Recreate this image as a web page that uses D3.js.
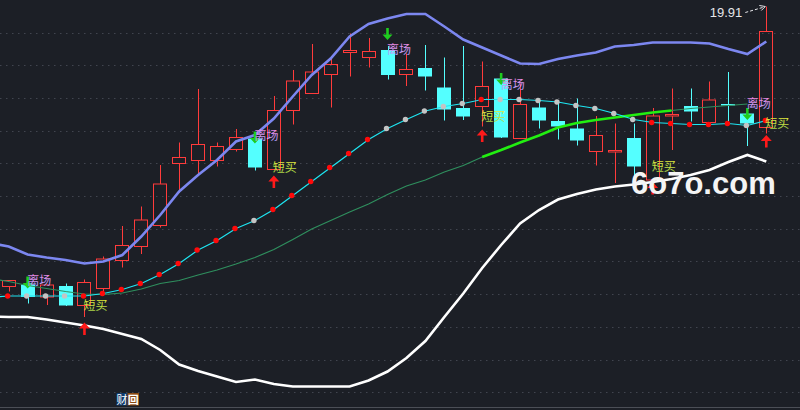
<!DOCTYPE html>
<html>
<head>
<meta charset="utf-8">
<script src="https://cdn.jsdelivr.net/npm/d3@7"></script>
<style>
  html, body { margin: 0; padding: 0; background: #1c1f26; }
  svg { display: block; }
</style>
</head>
<body>
<svg id="chart" width="800" height="410"></svg>
<script>
// daily bars, oldest first
var opens  = [14.31,14.35,14.10,14.32,13.93,14.27,14.83,15.11,15.53,16.77,16.83,16.83,17.05,17.27,16.65,17.83,18.17,18.55,18.99,18.89,19.04,18.55,18.68,18.29,17.88,17.91,18.47,17.27,17.89,17.62,17.47,17.01,17.02,17.28,16.44,17.74,17.92,17.59,17.96,17.77,17.49];
var highs  = [14.44,14.38,14.35,14.37,14.45,14.91,15.52,15.91,16.74,17.19,18.26,17.19,17.46,17.36,18.12,18.64,19.16,18.89,19.37,19.28,19.12,18.97,19.14,18.89,19.12,18.81,18.52,18.37,18.07,18.04,18.07,17.72,17.57,17.57,17.88,18.27,18.27,18.41,18.60,17.80,19.91];
var lows   = [14.21,13.97,13.94,13.92,13.70,14.12,14.69,14.96,15.49,16.18,16.56,16.71,17.01,16.63,16.64,17.55,18.16,17.89,18.51,18.69,18.45,18.32,18.23,17.63,17.64,17.51,17.28,17.26,17.47,17.25,17.13,16.73,16.38,16.52,16.42,17.04,17.61,17.51,17.56,17.12,17.37];
var closes = [14.43,14.10,14.34,13.93,14.39,14.86,15.13,15.64,16.36,16.89,17.15,17.11,17.29,16.69,17.83,18.42,18.60,18.75,19.03,19.01,18.54,18.65,18.51,17.85,17.71,18.31,17.29,17.95,17.63,17.51,17.23,17.33,17.03,16.71,17.72,17.75,17.81,18.04,17.94,17.57,19.41];

// indicator lines: first value belongs to the bar just before the window
var boll_upper = [15.18,15.11,14.95,14.89,14.84,14.77,14.81,14.94,15.31,15.74,16.21,16.54,16.84,17.21,17.34,17.67,18.11,18.54,18.87,19.31,19.56,19.67,19.76,19.76,19.51,19.25,19.09,18.93,18.77,18.76,18.86,18.93,18.99,19.11,19.14,19.19,19.19,19.19,19.17,19.06,18.96,19.21];
var boll_lower = [13.71,13.70,13.70,13.65,13.59,13.53,13.46,13.36,13.26,13.04,12.75,12.62,12.51,12.40,12.45,12.36,12.31,12.31,12.31,12.31,12.43,12.61,12.88,13.22,13.70,14.17,14.68,15.14,15.57,15.84,16.05,16.16,16.25,16.31,16.35,16.40,16.46,16.54,16.64,16.80,16.94,16.81];
var boll_mid   = [14.47,14.41,14.33,14.27,14.21,14.16,14.15,14.18,14.26,14.37,14.43,14.54,14.64,14.76,14.89,15.05,15.25,15.46,15.63,15.80,15.96,16.15,16.32,16.44,16.60,16.73,16.90,17.04,17.19,17.33,17.49,17.58,17.64,17.69,17.74,17.79,17.83,17.87,17.90,17.93,17.96,null];
var fast_line  = [14.09,14.12,14.12,14.12,14.12,14.12,14.17,14.25,14.37,14.55,14.77,15.04,15.23,15.47,15.63,15.85,16.13,16.41,16.69,16.97,17.25,17.47,17.65,17.82,17.91,17.97,18.05,18.05,18.05,18.03,18.00,17.93,17.87,17.77,17.65,17.59,17.57,17.55,17.55,17.57,17.53,17.63];
// 1 = red dot, 0 = grey dot (one per bar)
var fast_dots  = [1,0,0,0,1,1,1,1,1,1,1,1,1,0,1,1,1,1,1,1,0,0,0,0,0,1,0,0,0,0,0,0,0,0,1,1,1,1,1,0,1];
// bars where the mid band is drawn bold green
var mid_bold_from = 25, mid_bold_to = 35;

// signals
var exit_idx   = [1, 13, 20, 26, 39];
var exit_arrow = [14.27, 17.17, 19.24, 18.34, 17.64];
var exit_text  = [14.32, 17.21, 18.94, 18.24, 17.85];
var buy_idx    = [4, 14, 25, 34, 40];
var buy_arrow  = [13.59, 16.53, 17.45, 16.40, 17.34];
var buy_text   = [13.81, 16.57, 17.59, 16.59, 17.45];

var width = 800, height = 410;
var svg = d3.select('#chart');

var x = d3.scaleLinear().domain([0, opens.length - 1]).range([8.7, 766.3]);
var y = d3.scaleLinear().domain([11.88, 20.04]).range([408, 0]);
var step = x(1) - x(0);
var bw = Math.round(step * 0.76);

var defs = svg.append('defs');
var g1 = defs.append('linearGradient').attr('id', 'exitGrad').attr('x1', 0).attr('y1', 0).attr('x2', 0).attr('y2', 1);
g1.append('stop').attr('offset', '0%').attr('stop-color', '#ff7fd6');
g1.append('stop').attr('offset', '100%').attr('stop-color', '#a8a6ff');
var g2 = defs.append('linearGradient').attr('id', 'buyGrad').attr('x1', 0).attr('y1', 0).attr('x2', 0).attr('y2', 1);
g2.append('stop').attr('offset', '0%').attr('stop-color', '#f4f23a');
g2.append('stop').attr('offset', '100%').attr('stop-color', '#9fd24a');

// background + dotted grid
svg.append('rect').attr('width', width).attr('height', height).attr('fill', '#1c1f26');
svg.append('g').selectAll('line')
  .data(d3.range(12))
  .enter().append('line')
  .attr('x1', 0).attr('x2', width)
  .attr('y1', i => Math.round(32.5 + i * 32.7) + 0.5)
  .attr('y2', i => Math.round(32.5 + i * 32.7) + 0.5)
  .attr('stroke', '#41454f')
  .attr('stroke-dasharray', '1.5,4.5');
svg.append('line')
  .attr('x1', 0).attr('x2', width).attr('y1', 407.5).attr('y2', 407.5)
  .attr('stroke', '#4b4e56');

// candles
var bars = d3.range(opens.length).map(i => ({i: i, o: opens[i], h: highs[i], l: lows[i], c: closes[i], up: closes[i] >= opens[i]}));
var cg = svg.append('g');
bars.forEach(function (d) {
  var cx = Math.round(x(d.i)) + 0.5;
  var left = Math.round(x(d.i) - bw / 2) + 0.5;
  var top = y(Math.max(d.o, d.c)), bot = y(Math.min(d.o, d.c));
  if (bot - top < 1.5) { bot = top + 1.5; }
  if (d.up) {
    cg.append('line').attr('x1', cx).attr('x2', cx).attr('y1', y(d.h)).attr('y2', top).attr('stroke', '#ff3b3b');
    cg.append('line').attr('x1', cx).attr('x2', cx).attr('y1', bot).attr('y2', y(d.l)).attr('stroke', '#ff3b3b');
    cg.append('rect').attr('x', left).attr('y', top).attr('width', bw - 1).attr('height', bot - top)
      .attr('fill', 'none').attr('stroke', '#ff3b3b');
  } else {
    cg.append('line').attr('x1', cx).attr('x2', cx).attr('y1', y(d.h)).attr('y2', y(d.l)).attr('stroke', '#54ffff');
    cg.append('rect').attr('x', left - 0.5).attr('y', top).attr('width', bw).attr('height', bot - top)
      .attr('fill', '#54ffff');
  }
});

// indicator lines
function lineOf(arr) {
  return d3.line()
    .defined(d => d != null)
    .x((d, i) => x(i - 1))
    .y(d => y(d))(arr);
}
svg.append('path').attr('d', lineOf(boll_upper)).attr('fill', 'none').attr('stroke', '#7c87f0').attr('stroke-width', 2.6);
svg.append('path').attr('d', lineOf(boll_lower)).attr('fill', 'none').attr('stroke', '#ffffff').attr('stroke-width', 2.6);
svg.append('path').attr('d', lineOf(boll_mid)).attr('fill', 'none').attr('stroke', '#2f8f5e').attr('stroke-width', 1.2);
var bold_part = boll_mid.map((v, i) => (i - 1 >= mid_bold_from && i - 1 <= mid_bold_to) ? v : null);
svg.append('path').attr('d', lineOf(bold_part)).attr('fill', 'none').attr('stroke', '#22ee11').attr('stroke-width', 2.6);
svg.append('path').attr('d', lineOf(fast_line)).attr('fill', 'none').attr('stroke', '#1ee6f2').attr('stroke-width', 1.2);

svg.append('g').selectAll('circle')
  .data(fast_dots)
  .enter().append('circle')
  .attr('cx', (d, i) => x(i) - 1)
  .attr('cy', (d, i) => y(fast_line[i + 1]))
  .attr('r', 2.7)
  .attr('fill', d => d ? '#ff0a0a' : '#c4c4c4');

// exit signals: green down arrow + 离场
var eg = svg.append('g');
exit_idx.forEach(function (bi, k) {
  var cx = x(bi), tip = y(exit_arrow[k]);
  eg.append('path')
    .attr('d', 'M' + (cx - 1.3) + ',' + (tip - 12) + 'V' + (tip - 5.5) + 'H' + (cx - 5) + 'L' + cx + ',' + tip +
      'L' + (cx + 5) + ',' + (tip - 5.5) + 'H' + (cx + 1.3) + 'V' + (tip - 12) + 'Z')
    .attr('fill', '#1fcc1f');
  eg.append('text')
    .attr('x', cx - 0.5).attr('y', y(exit_text[k]) - 1.5)
    .style('font-family', '"Noto Sans CJK SC", sans-serif')
    .style('font-size', '12px')
    .attr('fill', 'url(#exitGrad)')
    .text('离场');
});

// buy signals: red up arrow + 短买
var bg = svg.append('g');
buy_idx.forEach(function (bi, k) {
  var cx = x(bi), tip = y(buy_arrow[k]);
  bg.append('path')
    .attr('d', 'M' + (cx - 1.3) + ',' + (tip + 12.5) + 'V' + (tip + 6) + 'H' + (cx - 5.5) + 'L' + cx + ',' + tip +
      'L' + (cx + 5.5) + ',' + (tip + 6) + 'H' + (cx + 1.3) + 'V' + (tip + 12.5) + 'Z')
    .attr('fill', '#ff1a1a');
  bg.append('text')
    .attr('x', cx - 1).attr('y', y(buy_text[k]) - 1.5)
    .style('font-family', '"Noto Sans CJK SC", sans-serif')
    .style('font-size', '12px')
    .attr('fill', 'url(#buyGrad)')
    .text('短买');
});

// highest price marker
var top_i = d3.maxIndex(highs);
var hx = x(top_i), hy = y(highs[top_i]);
svg.append('text')
  .attr('x', hx - 24).attr('y', hy + 10)
  .attr('text-anchor', 'end')
  .style('font-family', '"Liberation Sans", Arial, sans-serif')
  .style('font-size', '13px')
  .attr('fill', '#e6e6ea')
  .text(d3.format('.2f')(highs[top_i]));
svg.append('line')
  .attr('x1', hx - 21).attr('y1', hy + 6).attr('x2', hx - 2).attr('y2', hy + 0.5)
  .attr('stroke', '#e6e6ea').attr('stroke-width', 1).attr('stroke-dasharray', '3,2');
svg.append('path')
  .attr('d', 'M' + (hx - 7) + ',' + (hy - 1) + 'L' + (hx - 1) + ',' + hy + 'L' + (hx - 5) + ',' + (hy + 4))
  .attr('fill', 'none').attr('stroke', '#e6e6ea');

// watermark
svg.append('text')
  .attr('x', 631).attr('y', 193.5)
  .style('font-family', '"Liberation Sans", Arial, sans-serif')
  .style('font-weight', 'bold')
  .style('font-size', '31px')
  .attr('fill', '#f4f4f4')
  .text('6o7o.com');

// little finance badge at the bottom
svg.append('rect').attr('x', 116.5).attr('y', 393).attr('width', 11).attr('height', 12.5).attr('fill', '#0f3b6c');
svg.append('rect').attr('x', 127.5).attr('y', 393).attr('width', 11.5).attr('height', 12.5).attr('fill', '#8b4a12');
svg.append('text').attr('x', 122).attr('y', 403.5).attr('text-anchor', 'middle')
  .style('font-family', '"Noto Sans CJK SC", sans-serif').style('font-size', '11px').attr('fill', '#ffffff').text('财');
svg.append('text').attr('x', 133.3).attr('y', 403.5).attr('text-anchor', 'middle')
  .style('font-family', '"Noto Sans CJK SC", sans-serif').style('font-size', '11px').style('font-weight', 'bold')
  .attr('fill', '#ffffff').text('回');
</script>
</body>
</html>
